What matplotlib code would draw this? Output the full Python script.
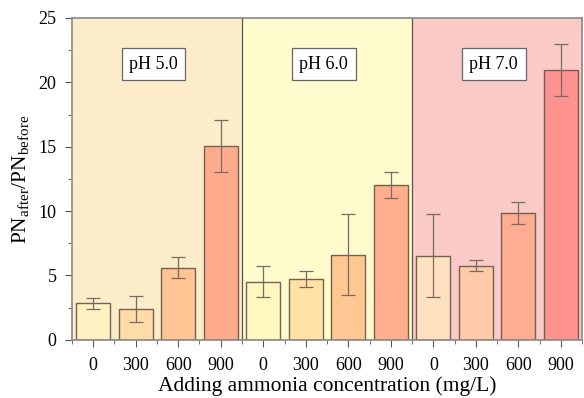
import numpy as np
import matplotlib.pyplot as plt
from matplotlib.ticker import MultipleLocator

plt.rcParams['font.family'] = 'Liberation Serif'
plt.rcParams['mathtext.fontset'] = 'custom'
plt.rcParams['mathtext.rm'] = 'Liberation Serif'
plt.rcParams['mathtext.it'] = 'Liberation Serif:italic'

# data
conc_labels = ['0', '300', '600', '900']
groups = ['pH 5.0', 'pH 6.0', 'pH 7.0']
ph5 = [2.85, 2.4, 5.6, 15.05]
ph5_err = [0.44, 1.02, 0.83, 2.0]
ph6 = [4.52, 4.7, 6.62, 12.03]
ph6_err = [1.2, 0.62, 3.15, 0.98]
ph7 = [6.55, 5.77, 9.86, 20.95]
ph7_err = [3.25, 0.45, 0.85, 2.0]

bg_colors = ['#FDECC9', '#FFFBCC', '#F9CAC6']
bar_colors = [['#FFF3C2', '#FFDCA6', '#FFC291', '#FFA98A'],
              ['#FFF6C0', '#FFE1A2', '#FFC690', '#FFAB8A'],
              ['#FFE4C0', '#FFCBA6', '#FFAC91', '#FF8F8C']]

vals = ph5 + ph6 + ph7
errs = ph5_err + ph6_err + ph7_err
cols = [c for g in bar_colors for c in g]
x = np.arange(len(vals))

fig = plt.figure(figsize=(5.84, 3.98), dpi=100)
ax = fig.add_axes([0.123, 0.146, 0.874, 0.809])

for k in range(3):
    ax.axvspan(4*k - 0.5, 4*k + 3.5, color=bg_colors[k], zorder=0, lw=0)
for b in [3.5, 7.5]:
    ax.axvline(b, color='#555555', lw=0.9, zorder=1)

ax.bar(x, vals, width=0.8, color=cols, edgecolor='#6b5a4e', linewidth=1.0,
       alpha=0.95, zorder=2)
ax.errorbar(x, vals, yerr=errs, fmt='none', ecolor='#7a6a60', elinewidth=0.9,
            capsize=5, capthick=0.9, zorder=3)

for k, g in enumerate(groups):
    ax.text(4*k + 1.42, 21.4, g, ha='center', va='center', fontsize=13,
            bbox=dict(boxstyle='square,pad=0.42', fc='white', ec='#666666', lw=0.9),
            zorder=4)

ax.set_xlim(-0.5, 11.5)
ax.set_ylim(0, 25)
ax.set_xticks(x)
ax.set_xticklabels(conc_labels * 3, fontsize=12.5)
ax.set_xticks(np.arange(-0.5, 12, 1), minor=True)
ax.yaxis.set_major_locator(MultipleLocator(5))
ax.yaxis.set_minor_locator(MultipleLocator(2.5))
ax.tick_params(axis='both', labelsize=13, color='#555555', length=5)
ax.tick_params(axis='x', pad=7)
ax.tick_params(axis='y', pad=6)
ax.tick_params(which='minor', length=3, color='#555555')
for s in ax.spines.values():
    s.set_color('#888888')
    s.set_linewidth(1.2)

ax.set_xlabel('Adding ammonia concentration (mg/L)', fontsize=15.5, labelpad=2)
ax.set_ylabel(r'PN$_{\mathrm{after}}$/PN$_{\mathrm{before}}$', fontsize=15.5, labelpad=5)

fig.savefig('out.png', dpi=100)
